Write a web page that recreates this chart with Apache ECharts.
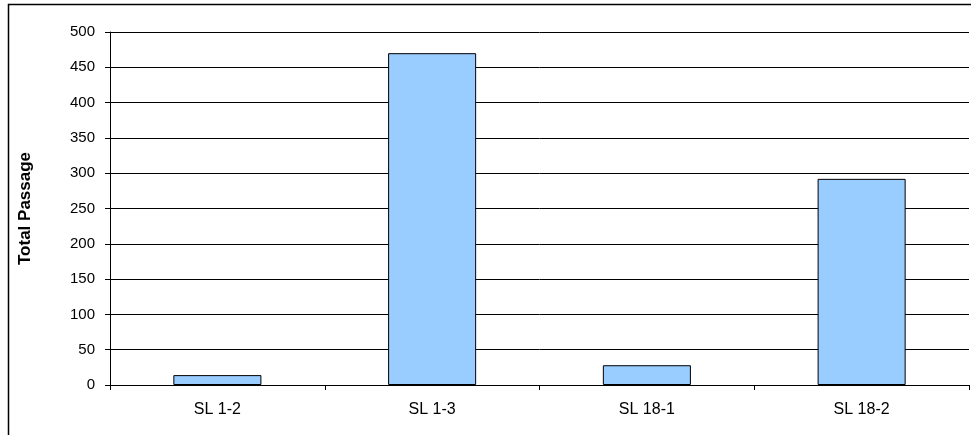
<!DOCTYPE html>
<html>
<head>
<meta charset="utf-8">
<script src="https://cdn.jsdelivr.net/npm/echarts@6/dist/echarts.min.js"></script>
<style>
  html, body { margin: 0; padding: 0; background: #fff; }
  #main { width: 971px; height: 435px; }
</style>
</head>
<body>
<div id="main"></div>
<script>
  const categories = ["SL 1-2", "SL 1-3", "SL 18-1", "SL 18-2"];
  const passage = [14, 470, 28, 292];

  let chart = echarts.init(document.getElementById("main"));
  let option = {
    animation: false,
    textStyle: { fontFamily: "Liberation Sans, Arial, sans-serif" },
    graphic: [
      {
        type: "rect",
        shape: { x: 8.5, y: 4.5, width: 1000, height: 500 },
        style: { fill: "none", stroke: "#000", lineWidth: 1.5 },
        silent: true,
      },
    ],
    grid: { left: 110, right: 2, top: 32, bottom: 50 },
    xAxis: {
      type: "category",
      data: categories,
      axisLine: { lineStyle: { color: "#000", width: 1 } },
      axisTick: { show: true, length: 5, lineStyle: { color: "#000" } },
      axisLabel: { color: "#000", fontSize: 16, margin: 17 },
    },
    yAxis: {
      type: "value",
      min: 0,
      max: 500,
      interval: 50,
      name: "Total Passage",
      nameLocation: "middle",
      nameGap: 76,
      nameTextStyle: { color: "#000", fontSize: 17, fontWeight: "bold" },
      axisLine: { show: true, lineStyle: { color: "#000", width: 1 } },
      axisTick: { show: true, length: 5, lineStyle: { color: "#000" } },
      axisLabel: { color: "#000", fontSize: 15, margin: 15 },
      splitLine: { show: true, lineStyle: { color: "#000", width: 1 } },
    },
    series: [
      {
        type: "bar",
        data: passage,
        barWidth: "41%",
        itemStyle: { color: "#99CCFF", borderColor: "#000", borderWidth: 1 },
      },
    ],
  };
  option && chart.setOption(option);
</script>
</body>
</html>
